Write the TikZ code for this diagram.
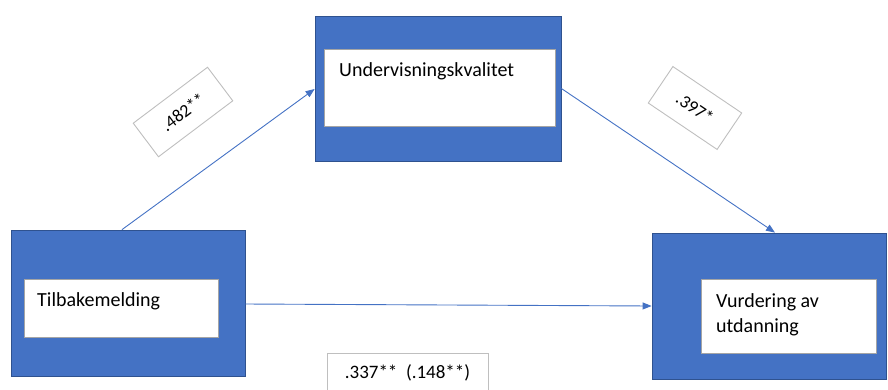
\documentclass[tikz,border=0pt]{standalone}
\usepackage{fontspec}
\setmainfont{Carlito}
\usetikzlibrary{arrows.meta}
\definecolor{boxblue}{HTML}{4472C4}
\definecolor{boxedge}{HTML}{2F528F}
\definecolor{labeledge}{HTML}{BFBFBF}
\definecolor{inneredge}{HTML}{A5A5A5}
\tikzset{
  outerbox/.style={draw=boxedge, fill=boxblue, line width=0.8pt, inner sep=0pt},
  innerbox/.style={draw=inneredge, fill=white, line width=1pt, inner sep=0pt},
  boxtext/.style={anchor=base west, inner sep=0pt, font=\fontsize{20}{25}\selectfont},
  coeff/.style={draw=labeledge, fill=white, line width=0.9pt, inner sep=0pt, font=\fontsize{18}{22}\selectfont},
  path/.style={draw=boxblue, line width=0.9pt, -{Triangle[length=9pt, width=7pt]}}
}
\begin{document}
\begin{tikzpicture}[x=1pt, y=-1pt]
\useasboundingbox (0,0) rectangle (888,389);
% mediator
\node[outerbox, minimum width=246pt, minimum height=145pt] (q) at (438,88.5) {};
\node[innerbox, minimum width=231pt, minimum height=77pt] (qi) at (439.5,87.5) {};
\node[boxtext] (qt) at (339,76) {Undervisningskvalitet};
% predictor
\node[outerbox, minimum width=234pt, minimum height=146pt] (l) at (128,303) {};
\node[innerbox, minimum width=194pt, minimum height=58pt] (li) at (121,308) {};
\node[boxtext] (lt) at (37,306) {Tilbakemelding};
% outcome
\node[outerbox, minimum width=234pt, minimum height=146pt] (r) at (769,306) {};
\node[innerbox, minimum width=175pt, minimum height=74pt] (ri) at (788.5,316) {};
\node[boxtext] (rt1) at (716,307) {Vurdering av};
\node[boxtext] (rt2) at (716,332) {utdanning};
% paths
\draw[path] ([xshift=-6pt]l.north) -- ([yshift=-0.5pt]q.west);
\draw[path] (q.east) -- ([xshift=6pt]r.north);
\draw[path] ([yshift=-1pt]l.east) -- (r.west);
% coefficients
\node[coeff, minimum width=93pt, minimum height=42pt, rotate=37] (a) at (183,112) {.482**};
\node[coeff, minimum width=83pt, minimum height=44pt, rotate=-34] (b) at (695,108) {.397*};
\node[coeff, minimum width=161pt, minimum height=50pt] (c) at (407.5,378) {};
\node[inner sep=0pt, anchor=base, font=\fontsize{19}{23}\selectfont] (ct) at (407.5,378) {.337**\ \ (.148**)};
\end{tikzpicture}
\end{document}
